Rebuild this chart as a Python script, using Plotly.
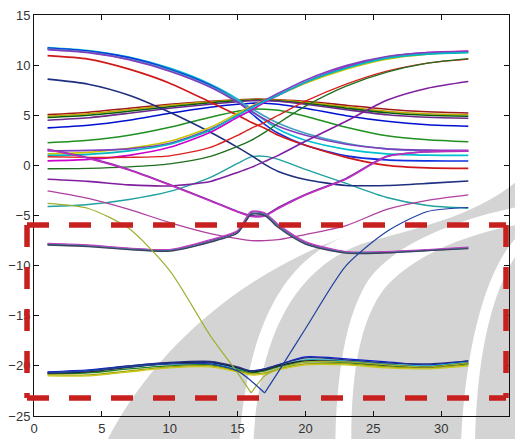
import plotly.graph_objects as go

# sampling positions along the path (x axis)
K = [1, 4, 7, 10, 13, 15, 16, 17, 18, 20, 23, 26, 29, 32]

# upper branches falling from left to right
fall_cyan = [11.75, 11.45, 10.8, 9.7, 8.1, 6.6, 5.5, 4.5, 3.6, 2.5, 1.6, 1.15, 1.02, 1.0]
fall_blue = [11.7, 11.4, 10.75, 9.6, 8.0, 6.4, 5.2, 4.1, 3.2, 2.0, 0.95, 0.55, 0.45, 0.43]
fall_teal = [11.6, 11.3, 10.6, 9.5, 7.9, 6.5, 5.7, 4.9, 4.2, 3.2, 2.2, 1.65, 1.47, 1.42]
fall_violet = [11.55, 11.25, 10.55, 9.4, 7.8, 6.3, 5.4, 4.6, 3.9, 3.0, 2.1, 1.65, 1.52, 1.5]
fall_red = [10.95, 10.6, 9.6, 8.2, 6.3, 5.0, 4.3, 3.7, 3.0, 2.0, 0.8, 0.0, -0.25, -0.3]
fall_navy = [8.6, 8.1, 7.0, 5.3, 3.3, 1.8, 1.0, 0.1, -0.6, -1.4, -2.0, -2.0, -1.8, -1.56]

# upper branches rising from left to right
rise_yellow = [1.15, 1.3, 1.7, 2.4, 3.8, 5.2, 5.9, 6.5, 7.0, 8.2, 9.6, 10.6, 11.1, 11.3]
rise_magenta = [0.45, 0.6, 1.0, 1.8, 3.3, 4.8, 5.5, 6.3, 7.0, 8.3, 9.8, 10.8, 11.25, 11.4]
rise_purple = [1.45, 1.5, 1.65, 2.2, 3.6, 5.0, 5.8, 6.5, 7.2, 8.5, 9.95, 10.85, 11.25, 11.35]
rise_cyan = [1.0, 1.1, 1.45, 2.1, 3.5, 5.0, 5.7, 6.4, 7.0, 8.3, 9.7, 10.7, 11.1, 11.25]
rise_red = [0.86, 0.8, 0.8, 0.95, 1.8, 3.0, 3.7, 4.3, 5.0, 6.4, 8.1, 9.4, 10.2, 10.6]
rise_green = [-0.33, -0.3, -0.15, 0.15, 0.9, 1.9, 2.5, 3.3, 4.2, 5.9, 7.9, 9.3, 10.2, 10.65]
rise_plum = [-1.39, -1.6, -1.95, -2.05, -1.6, -0.7, -0.2, 0.4, 1.0, 2.4, 4.4, 6.5, 7.7, 8.37]

# branches that bulge upward near the centre
hump_maroon = [5.06, 5.3, 5.7, 6.1, 6.4, 6.55, 6.6, 6.6, 6.55, 6.4, 6.0, 5.6, 5.35, 5.23]
hump_olive = [4.9, 5.15, 5.55, 6.0, 6.35, 6.5, 6.55, 6.55, 6.5, 6.3, 5.85, 5.4, 5.15, 5.05]
hump_forest = [4.77, 5.0, 5.4, 5.85, 6.25, 6.45, 6.5, 6.5, 6.45, 6.2, 5.7, 5.25, 5.0, 4.9]
hump_violet = [4.5, 4.75, 5.2, 5.7, 6.1, 6.35, 6.45, 6.45, 6.4, 6.1, 5.55, 5.05, 4.8, 4.7]
hump_blue = [3.74, 4.0, 4.5, 5.2, 5.8, 6.1, 6.2, 6.2, 6.1, 5.7, 4.95, 4.4, 4.05, 3.9]
hump_green = [2.25, 2.5, 3.0, 3.8, 4.8, 5.4, 5.6, 5.6, 5.5, 4.9, 3.8, 2.95, 2.55, 2.35]
hump_teal = [-4.1, -3.9, -3.4, -2.6, -1.2, 0.2, 0.85, 0.9, 0.6, -0.4, -1.8, -3.2, -4.0, -4.27]

# branches that dip toward the centre
dip_purple = [1.6, 0.75, -0.4, -1.9, -3.5, -4.6, -5.0, -5.0, -4.2, -2.9, -1.3, 0.9, 1.35, 1.42]
dip_magenta = [1.55, 0.7, -0.45, -1.95, -3.55, -4.65, -5.1, -5.05, -4.3, -2.95, -1.35, 0.85, 1.38, 1.45]
dip_pink = [-2.55, -3.3, -4.4, -5.7, -6.8, -7.3, -7.5, -7.5, -7.4, -6.9, -6.0, -4.4, -3.5, -2.95]

# mid-level bundle with a peak at the centre
peak_a = [-7.85, -8.0, -8.3, -8.45, -7.5, -6.6, -4.7, -4.8, -6.0, -7.7, -8.65, -8.65, -8.45, -8.2]
peak_b = [-7.8, -7.95, -8.25, -8.4, -7.4, -6.5, -4.6, -4.75, -5.9, -7.6, -8.6, -8.6, -8.4, -8.15]
peak_c = [-7.9, -8.05, -8.35, -8.5, -7.6, -6.7, -4.85, -4.9, -6.1, -7.8, -8.7, -8.7, -8.5, -8.25]
peak_d = [-7.95, -8.1, -8.4, -8.55, -7.65, -6.75, -4.9, -5.0, -6.2, -7.85, -8.75, -8.72, -8.5, -8.3]

# lowest bundle
low_blue = [-20.6, -20.4, -20.0, -19.7, -19.7, -20.2, -20.5, -20.3, -19.9, -19.1, -19.3, -19.6, -19.9, -19.5]
low_cyan = [-20.7, -20.5, -20.1, -19.8, -19.8, -20.3, -20.6, -20.4, -20.0, -19.4, -19.5, -19.8, -20.0, -19.6]
low_green = [-20.8, -20.7, -20.3, -20.0, -19.9, -20.4, -20.7, -20.5, -20.1, -19.6, -19.7, -20.0, -20.1, -19.8]
low_olive = [-20.9, -20.9, -20.5, -20.1, -20.0, -20.5, -20.8, -20.7, -20.3, -19.8, -19.8, -20.1, -20.2, -19.9]
low_black = [-20.75, -20.6, -20.15, -19.75, -19.6, -20.2, -20.6, -20.4, -20.0, -19.5, -19.6, -19.9, -20.1, -19.7]
low_navy = [-20.65, -20.5, -20.0, -19.65, -19.55, -20.1, -20.5, -20.3, -19.9, -19.2, -19.4, -19.7, -19.8, -19.5]
low_yellow = [-21.0, -21.0, -20.6, -20.2, -20.1, -20.6, -20.9, -20.8, -20.4, -19.9, -19.9, -20.2, -20.3, -20.0]

# the two branches that cross the full range (sharp minimum at the centre)
cross_down = [-3.8, -4.3, -6.3, -10.5, -17.0, -20.7, -22.7, -21.0, -20.3, -19.6, -19.6, -19.9, -20.1, -19.7]
cross_up = [-20.7, -20.5, -20.1, -19.8, -19.8, -20.5, -21.5, -22.7, -20.6, -16.3, -10.0, -6.6, -4.6, -4.2]

curves = [
    (hump_maroon, "#a01818", 1.6), (hump_olive, "#c0a800", 1.6),
    (hump_forest, "#0a600a", 1.6), (hump_violet, "#6a2a8a", 1.6),
    (hump_blue, "#0010d0", 1.6), (hump_green, "#209020", 1.6),
    (hump_teal, "#20a0a0", 1.4),
    (fall_cyan, "#00c0d0", 1.6), (fall_blue, "#1030e0", 1.6),
    (fall_teal, "#40a0c0", 1.6), (fall_violet, "#7f3fbf", 1.6),
    (fall_red, "#d01818", 1.6), (fall_navy, "#1f2f7f", 1.6),
    (rise_yellow, "#c8c800", 1.6), (rise_magenta, "#cc00cc", 1.6),
    (rise_purple, "#8040c0", 1.6), (rise_cyan, "#00b8c0", 1.6),
    (rise_red, "#dd2020", 1.4), (rise_green, "#1f6f1f", 1.4),
    (rise_plum, "#7f1f9f", 1.6),
    (dip_purple, "#7030a0", 1.6), (dip_magenta, "#c030c0", 1.6),
    (dip_pink, "#b040a0", 1.3),
    (peak_a, "#7a2fa0", 1.4), (peak_b, "#c040c0", 1.4),
    (peak_c, "#3a8fa0", 1.4), (peak_d, "#404060", 1.4),
    (low_blue, "#1020d0", 1.3), (low_cyan, "#20b0c0", 1.3),
    (low_green, "#208020", 1.3), (low_olive, "#a0a000", 1.3),
    (low_black, "#202020", 1.2), (low_navy, "#203080", 1.3),
    (low_yellow, "#c8c820", 1.3),
]
crossing = [(cross_down, "#a0b030", 1.2), (cross_up, "#2040a0", 1.2)]

fig = go.Figure()


def add_curve(xs, ys, col, lw):
    fig.add_trace(go.Scatter(
        x=xs, y=ys, mode="lines",
        line=dict(color=col, width=lw, shape="spline", smoothing=0.7),
        hoverinfo="skip", showlegend=False,
    ))


for ys, col, lw in curves:
    add_curve(K, ys, col, lw)

# crossing branches are drawn in two pieces so the minimum stays a sharp corner
for ys, col, lw in crossing:
    m = ys.index(min(ys))
    add_curve(K[:m + 1], ys[:m + 1], col, lw)
    add_curve(K[m:], ys[m:], col, lw)

# plot-area geometry in pixels (page is 515 x 441)
L, R, T, B = 34, 5, 15, 23
W, H = 515, 441
PW, PH = W - L - R, H - T - B


def to_paper(px, py):
    return (px - L) / PW, (H - B - py) / PH


def path(segments):
    out = []
    for cmd, pts in segments:
        coords = " ".join("%.4f,%.4f" % to_paper(*p) for p in pts)
        out.append(cmd + " " + coords if pts else cmd)
    return " ".join(out)


# grey swoosh watermark behind the data
swooshes = [
    [("M", [(108, 441)]), ("C", [(150, 360), (230, 280), (345, 238)]),
     ("C", [(295, 258), (250, 310), (240, 441)]), ("Z", [])],
    [("M", [(254, 441)]), ("C", [(262, 320), (305, 268), (360, 246)]),
     ("C", [(400, 232), (470, 222), (518, 182)]), ("L", [(518, 208)]),
     ("C", [(470, 218), (400, 240), (370, 280)]),
     ("C", [(350, 310), (338, 360), (336, 441)]), ("Z", [])],
    [("M", [(352, 441)]), ("C", [(352, 370), (362, 320), (385, 290)]),
     ("C", [(415, 255), (470, 235), (518, 226)]), ("L", [(518, 238)]),
     ("C", [(492, 265), (468, 330), (462, 441)]), ("Z", [])],
    [("M", [(476, 441)]), ("C", [(478, 350), (495, 290), (518, 255)]),
     ("L", [(518, 441)]), ("Z", [])],
]
shapes = []
for sw in swooshes:
    shapes.append(dict(type="path", xref="paper", yref="paper", path=path(sw),
                       fillcolor="rgb(212,212,212)", line=dict(width=0),
                       layer="below"))

# dashed red frame around the lower part of the chart
fx0, fy0 = to_paper(27, 226)
fx1, fy1 = to_paper(507, 400)
red = dict(color="rgb(200,32,30)", width=5.5, dash="22px,20px")
for (a, b, c, d) in [(fx0, fy0, fx1, fy0), (fx0, fy1, fx1, fy1),
                     (fx0, fy0, fx0, fy1), (fx1, fy0, fx1, fy1)]:
    shapes.append(dict(type="line", xref="paper", yref="paper",
                       x0=a, y0=b, x1=c, y1=d, line=red, layer="above"))

axis_common = dict(
    showline=True, linecolor="#111", linewidth=1, mirror="allticks",
    ticks="inside", ticklen=5, tickcolor="#111", showgrid=False,
    zeroline=False, tickfont=dict(family="Liberation Sans, Arial", size=13, color="#333"),
)
fig.update_xaxes(range=[0, 35], tickvals=[0, 5, 10, 15, 20, 25, 30, 35], **axis_common)
fig.update_yaxes(range=[-25, 15], tickvals=[-25, -20, -15, -10, -5, 0, 5, 10, 15], **axis_common)

fig.update_layout(
    width=W, height=H,
    margin=dict(l=L, r=R, t=T, b=B),
    paper_bgcolor="white", plot_bgcolor="rgba(0,0,0,0)",
    shapes=shapes,
)

fig.write_html("out.html")
